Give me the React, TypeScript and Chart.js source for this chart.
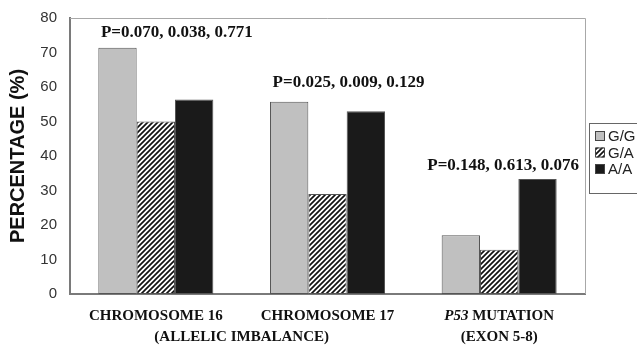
import React, { useEffect, useRef } from "react";
import { Chart, registerables } from "chart.js";
Chart.register(...registerables);

// ---- data ----
const categories = ["CHROMOSOME 16", "CHROMOSOME 17", "P53 MUTATION"];
const italicPrefixes = ["", "", "P53"];
const subLabels = ["(ALLELIC IMBALANCE)", "(EXON 5-8)"];
const subLabelSpans = [[0, 1], [2, 2]];
const seriesLabels = ["G/G", "G/A", "A/A"];
const ggValues = [71.4, 55.7, 17.0];
const gaValues = [50.0, 29.0, 12.8];
const aaValues = [56.4, 53.0, 33.3];
const pValueLabels = ["P=0.070, 0.038, 0.771", "P=0.025, 0.009, 0.129", "P=0.148, 0.613, 0.076"];
const yTicks = [0, 10, 20, 30, 40, 50, 60, 70, 80];

// ---- styles ----
const pLabelDx = [21, 21, 4];
const pLabelDy = [15, 19, 14];
const serif = "'Liberation Serif', 'Times New Roman', serif";
const sans = "'Liberation Sans', Arial, sans-serif";

function makeHatch(): CanvasPattern | string {
  const c = document.createElement("canvas");
  const s = 5;
  c.width = s;
  c.height = s;
  const g = c.getContext("2d");
  if (!g) return "#888";
  g.fillStyle = "#ffffff";
  g.fillRect(0, 0, s, s);
  g.strokeStyle = "#111";
  g.lineWidth = 1.7;
  g.beginPath();
  g.moveTo(-1, s + 1);
  g.lineTo(s + 1, -1);
  g.moveTo(-1, 1);
  g.lineTo(1, -1);
  g.moveTo(s - 1, s + 1);
  g.lineTo(s + 1, s - 1);
  g.stroke();
  return g.createPattern(c, "repeat") || "#888";
}

export default function App() {
  const ref = useRef<HTMLCanvasElement | null>(null);
  useEffect(() => {
    document.body.style.margin = "0";
    const canvas = ref.current;
    if (!canvas) return;
    const hatch = makeHatch();
    const fills: any[] = ["#c0c0c0", hatch, "#1a1a1a"];

    const overlay = {
      id: "overlay",
      afterDraw(chart: any) {
        const ctx = chart.ctx as CanvasRenderingContext2D;
        const area = chart.chartArea;
        const x = chart.scales.x;
        const y = chart.scales.y;
        ctx.save();
        // plot frame top/right
        ctx.strokeStyle = "#a8a8a8";
        ctx.lineWidth = 1;
        ctx.beginPath();
        ctx.moveTo(area.left, area.top + 0.5);
        ctx.lineTo(area.right + 0.5, area.top + 0.5);
        ctx.lineTo(area.right + 0.5, area.bottom);
        ctx.stroke();

        // x labels line 1
        ctx.fillStyle = "#111";
        ctx.textBaseline = "middle";
        categories.forEach((cat, i) => {
          const cx = x.getPixelForValue(i);
          const pre = italicPrefixes[i];
          const rest = pre ? cat.slice(pre.length) : cat;
          ctx.font = `italic bold 15px ${serif}`;
          const wPre = pre ? ctx.measureText(pre).width : 0;
          ctx.font = `bold 15px ${serif}`;
          const wRest = ctx.measureText(rest).width;
          let sx = cx - (wPre + wRest) / 2;
          ctx.textAlign = "left";
          if (pre) {
            ctx.font = `italic bold 15px ${serif}`;
            ctx.fillText(pre, sx, 316);
            sx += wPre;
          }
          ctx.font = `bold 15px ${serif}`;
          ctx.fillText(rest, sx, 316);
        });
        // x labels line 2
        ctx.textAlign = "center";
        ctx.font = `bold 15px ${serif}`;
        subLabels.forEach((t, i) => {
          const [a, b] = subLabelSpans[i];
          const cx = (x.getPixelForValue(a) + x.getPixelForValue(b)) / 2;
          ctx.fillText(t, cx, 337);
        });

        // p-value labels
        ctx.font = `bold 17px ${serif}`;
        pValueLabels.forEach((t, i) => {
          const m = Math.max(ggValues[i], gaValues[i], aaValues[i]);
          ctx.fillText(t, x.getPixelForValue(i) + pLabelDx[i], y.getPixelForValue(m) - pLabelDy[i]);
        });

        // legend
        const lx = area.right + 4;
        const ly = 123;
        ctx.strokeStyle = "#666";
        ctx.lineWidth = 1;
        ctx.fillStyle = "#fff";
        ctx.fillRect(lx + 0.5, ly + 0.5, 60, 70);
        ctx.strokeRect(lx + 0.5, ly + 0.5, 60, 70);
        ctx.font = `15px ${sans}`;
        ctx.textAlign = "left";
        seriesLabels.forEach((s, i) => {
          const cy = ly + 13 + i * 16.5;
          ctx.fillStyle = fills[i];
          ctx.fillRect(lx + 6, cy - 5, 10, 10);
          ctx.strokeStyle = "#444";
          ctx.strokeRect(lx + 6.5, cy - 4.5, 9, 9);
          ctx.fillStyle = "#222";
          ctx.fillText(s, lx + 19, cy + 1);
        });
        ctx.restore();
      },
    };

    const chart = new Chart(canvas, {
      type: "bar",
      data: {
        labels: categories,
        datasets: [ggValues, gaValues, aaValues].map((d, i) => ({
          label: seriesLabels[i],
          data: d,
          backgroundColor: fills[i],
          borderColor: "#555",
          borderWidth: 1,
          borderSkipped: false,
          barPercentage: 1,
          categoryPercentage: 0.67,
        })),
      },
      options: {
        animation: false,
        responsive: false,
        layout: { padding: { top: 18, right: 52, left: 0, bottom: 0 } },
        plugins: { legend: { display: false }, tooltip: { enabled: false } },
        scales: {
          x: {
            grid: { display: false },
            border: { display: true, color: "#7a7a7a", width: 2 },
            ticks: { display: false },
            afterFit(scale: any) {
              scale.height = 51;
            },
          },
          y: {
            min: 0,
            max: 80,
            afterBuildTicks(scale: any) {
              scale.ticks = yTicks.map((v) => ({ value: v }));
            },
            grid: { display: false },
            border: { display: true, color: "#7a7a7a", width: 2 },
            ticks: { font: { family: sans, size: 15 }, color: "#333", padding: 5 },
            title: {
              display: true,
              text: "PERCENTAGE (%)",
              font: { family: sans, size: 20, weight: "bold" },
              color: "#111",
              padding: { top: 6, bottom: 0 },
            },
            afterFit(scale: any) {
              scale.width = 70;
            },
          },
        },
      },
      plugins: [overlay],
    } as any);
    return () => chart.destroy();
  }, []);
  return (
    <div style={{ width: 637, height: 345 }}>
      <canvas ref={ref} width={637} height={345} />
    </div>
  );
}
